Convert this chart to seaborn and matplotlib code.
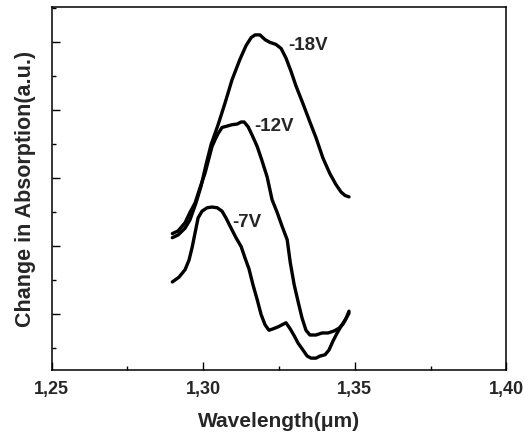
import numpy as np
import pandas as pd
import seaborn as sns
import matplotlib.pyplot as plt
from matplotlib.ticker import MultipleLocator, FixedLocator, NullFormatter

# --- data (wavelength in um, absorption change in a.u.) ---
wl_18 = [1.2898, 1.2917, 1.2940, 1.2956, 1.2976, 1.2993, 1.3009, 1.3026, 1.3049, 1.3072,
         1.3095, 1.3121, 1.3141, 1.3158, 1.3171, 1.3187, 1.3204, 1.3220, 1.3240, 1.3257,
         1.3273, 1.3290, 1.3306, 1.3329, 1.3352, 1.3372, 1.3395, 1.3418, 1.3438, 1.3455,
         1.3468, 1.3481]
abs_18 = [2.12, 2.16, 2.26, 2.38, 2.63, 2.88, 3.19, 3.49, 3.78, 4.10,
          4.44, 4.74, 4.94, 5.06, 5.10, 5.10, 5.03, 4.99, 4.96, 4.90,
          4.76, 4.56, 4.35, 4.09, 3.82, 3.59, 3.29, 3.06, 2.90, 2.79,
          2.74, 2.72]

wl_12 = [1.2898, 1.2917, 1.2940, 1.2956, 1.2973, 1.2989, 1.3006, 1.3019, 1.3029, 1.3039,
         1.3049, 1.3062, 1.3079, 1.3095, 1.3112, 1.3125, 1.3135, 1.3148, 1.3161, 1.3178,
         1.3194, 1.3211, 1.3227, 1.3244, 1.3260, 1.3277, 1.3287, 1.3300, 1.3313, 1.3326,
         1.3339, 1.3352, 1.3372, 1.3392, 1.3412, 1.3432, 1.3448, 1.3461, 1.3471, 1.3481]
abs_12 = [2.18, 2.22, 2.34, 2.49, 2.63, 2.85, 3.07, 3.29, 3.46, 3.56,
          3.65, 3.74, 3.76, 3.78, 3.79, 3.82, 3.82, 3.75, 3.63, 3.46,
          3.25, 3.01, 2.68, 2.49, 2.29, 2.09, 1.76, 1.43, 1.18, 0.94,
          0.76, 0.69, 0.69, 0.72, 0.72, 0.75, 0.79, 0.85, 0.93, 1.04]

wl_7 = [1.2898, 1.2920, 1.2940, 1.2953, 1.2963, 1.2973, 1.2983, 1.2996, 1.3013, 1.3029,
        1.3046, 1.3062, 1.3075, 1.3092, 1.3108, 1.3125, 1.3138, 1.3151, 1.3164, 1.3178,
        1.3191, 1.3204, 1.3217, 1.3230, 1.3247, 1.3260, 1.3273, 1.3287, 1.3300, 1.3313,
        1.3329, 1.3343, 1.3356, 1.3372, 1.3385, 1.3402, 1.3415, 1.3428, 1.3442, 1.3455,
        1.3468, 1.3481]
abs_7 = [1.47, 1.54, 1.65, 1.79, 1.97, 2.19, 2.41, 2.51, 2.56, 2.57,
         2.56, 2.51, 2.41, 2.26, 2.12, 1.99, 1.82, 1.66, 1.43, 1.21,
         0.99, 0.84, 0.76, 0.78, 0.81, 0.84, 0.87, 0.78, 0.68, 0.57,
         0.47, 0.38, 0.35, 0.35, 0.38, 0.40, 0.47, 0.60, 0.72, 0.82,
         0.91, 1.01]

labels = ["-18V", "-12V", "-7V"]
label_x = [1.3280, 1.3169, 1.3096]
label_y = [4.95, 3.75, 2.34]

x_ticks = [1.25, 1.30, 1.35, 1.40]
x_tick_labels = ["1,25", "1,30", "1,35", "1,40"]

sns.set_style("ticks")
plt.rcParams['font.family'] = ['Liberation Sans', 'DejaVu Sans']

fig = plt.figure(figsize=(5.24, 4.34), dpi=100)
ax = fig.add_axes([0.0987, 0.1475, 0.8675, 0.8364])

for wl, ab in [(wl_18, abs_18), (wl_12, abs_12), (wl_7, abs_7)]:
    sns.lineplot(x=wl, y=ab, sort=False, color="black", linewidth=2.4, ax=ax)

for lab, lx, ly in zip(labels, label_x, label_y):
    ax.text(lx, ly, lab, fontsize=13.5, fontweight="bold", ha="left", va="center")

ax.set_xlim(1.25, 1.40)
ax.set_ylim(0.176, 5.51)
ax.xaxis.set_major_locator(FixedLocator(x_ticks))
ax.set_xticklabels(x_tick_labels)
ax.xaxis.set_minor_locator(MultipleLocator(0.025))
ax.yaxis.set_major_locator(MultipleLocator(1))
ax.yaxis.set_minor_locator(MultipleLocator(0.5))
ax.yaxis.set_major_formatter(NullFormatter())

ax.tick_params(which="both", direction="in", color="black", width=1.0,
               top=False, right=False)
ax.tick_params(which="major", length=6, labelsize=13, pad=8)
ax.tick_params(which="minor", length=3)
for lbl in ax.get_xticklabels():
    lbl.set_fontweight("bold")

for s in ax.spines.values():
    s.set_color("black")
    s.set_linewidth(1.1)

ax.set_xlabel("Wavelength(\u03bcm)", fontsize=15, fontweight="bold", labelpad=10)
ax.set_ylabel("Change in Absorption(a.u.)", fontsize=15.5, fontweight="bold", labelpad=3)

fig.savefig("out.png", dpi=100)
